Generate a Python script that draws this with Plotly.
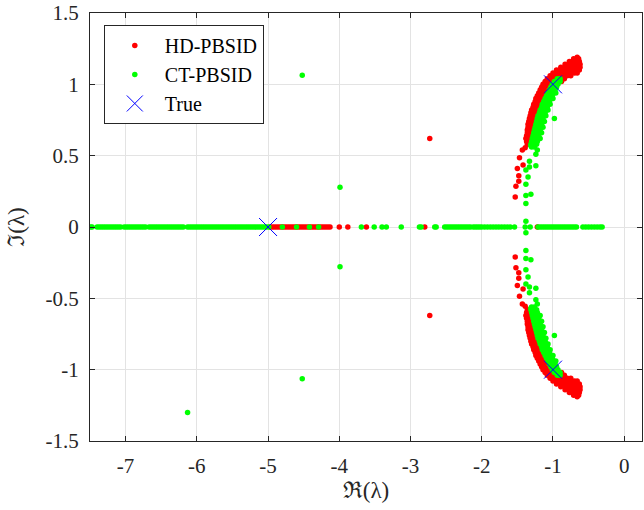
import plotly.graph_objects as go

# ---------------- data ----------------
# HD-PBSID: sparse complex-pair eigenvalues (upper half plane; conjugates added)
hd_pair_re = [-1.53, -1.52, -1.48, -1.48, -1.50, -1.42, -1.47, -1.43, -1.39, -1.36, -2.73]
hd_pair_im = [0.21, 0.285, 0.32, 0.36, 0.41, 0.435, 0.486, 0.54, 0.556, 0.58, 0.62]
# HD-PBSID: dense arc, rows of (imag part, real parts)
hd_arc_rows = [
    (0.60, [-1.37, -1.33, -1.29]),
    (0.62, [-1.38, -1.34, -1.30]),
    (0.64, [-1.37, -1.33, -1.29]),
    (0.66, [-1.36, -1.32, -1.28]),
    (0.68, [-1.36, -1.32, -1.27]),
    (0.70, [-1.35, -1.31, -1.26]),
    (0.72, [-1.35, -1.30, -1.25]),
    (0.74, [-1.34, -1.29, -1.24]),
    (0.76, [-1.33, -1.28, -1.23]),
    (0.78, [-1.32, -1.27, -1.22]),
    (0.80, [-1.31, -1.26, -1.20]),
    (0.82, [-1.30, -1.25, -1.19]),
    (0.84, [-1.28, -1.23, -1.17]),
    (0.86, [-1.27, -1.21, -1.15]),
    (0.88, [-1.25, -1.19, -1.13]),
    (0.90, [-1.24, -1.18, -1.11]),
    (0.92, [-1.22, -1.16, -1.09]),
    (0.94, [-1.20, -1.14, -1.07]),
    (0.96, [-1.18, -1.12, -1.05]),
    (0.98, [-1.16, -1.10, -1.04, -0.98]),
    (1.00, [-1.14, -1.08, -1.02, -0.96]),
    (1.02, [-1.11, -1.05, -0.99, -0.93, -0.88]),
    (1.04, [-1.08, -1.02, -0.96, -0.90, -0.84]),
    (1.06, [-1.04, -0.98, -0.92, -0.86, -0.80, -0.75]),
    (1.08, [-1.00, -0.94, -0.88, -0.82, -0.76, -0.70, -0.66]),
    (1.10, [-0.95, -0.89, -0.83, -0.77, -0.71, -0.66, -0.63]),
    (1.12, [-0.89, -0.83, -0.77, -0.71, -0.66, -0.62]),
    (1.14, [-0.83, -0.77, -0.71, -0.66, -0.62]),
    (1.16, [-0.77, -0.72, -0.67, -0.63]),
    (1.18, [-0.71, -0.67, -0.64]),
    (1.19, [-0.66]),
]
# HD-PBSID: real eigenvalues
hd_real = [-4.97, -4.94, -4.91, -4.88, -4.85, -4.82, -4.79, -4.76, -4.73, -4.70,
           -4.67, -4.64, -4.61, -4.58, -4.55, -4.52, -4.49, -4.46, -4.43, -4.40,
           -4.37, -4.34, -4.31, -4.28, -4.25, -4.22, -4.19, -4.16, -4.13,
           -4.00, -3.88, -3.62, -2.80, -1.22]

# CT-PBSID: sparse complex-pair eigenvalues (upper half plane; conjugates added)
ct_pair_re = [-4.52, -6.13, -3.99, -1.38,
              -1.38, -1.38, -1.31, -1.38, -1.35, -1.38, -1.33, -1.24, -1.33, -1.24,
              -1.22, -1.31, -0.98]
ct_pair_im = [1.063, 1.30, 0.278, 0.04,
              0.165, 0.22, 0.23, 0.30, 0.35, 0.40, 0.42, 0.43, 0.46, 0.51,
              0.54, 0.57, 0.76]
# CT-PBSID: dense arc, rows of (imag part, real parts)
ct_arc_rows = [
    (0.56, [-1.30, -1.26]),
    (0.58, [-1.31, -1.27, -1.23]),
    (0.60, [-1.30, -1.26, -1.22]),
    (0.62, [-1.29, -1.25, -1.21, -1.18]),
    (0.64, [-1.28, -1.24, -1.20]),
    (0.66, [-1.27, -1.23, -1.19, -1.16]),
    (0.68, [-1.26, -1.22, -1.18]),
    (0.70, [-1.25, -1.21, -1.17, -1.14]),
    (0.72, [-1.24, -1.20, -1.16]),
    (0.74, [-1.23, -1.19, -1.15, -1.12]),
    (0.76, [-1.22, -1.18, -1.14]),
    (0.78, [-1.21, -1.17, -1.13, -1.10]),
    (0.80, [-1.19, -1.15, -1.11]),
    (0.82, [-1.18, -1.14, -1.10, -1.07]),
    (0.84, [-1.16, -1.12, -1.08]),
    (0.86, [-1.15, -1.11, -1.07, -1.04]),
    (0.88, [-1.13, -1.09, -1.05]),
    (0.90, [-1.11, -1.07, -1.03, -1.00]),
    (0.92, [-1.09, -1.05, -1.01]),
    (0.94, [-1.07, -1.03, -0.99, -0.96]),
    (0.96, [-1.05, -1.01, -0.97]),
    (0.98, [-1.03, -0.99, -0.95]),
    (1.00, [-1.01, -0.97, -0.93]),
    (1.02, [-0.98, -0.94, -0.90]),
    (1.04, [-0.94, -0.90]),
]
# CT-PBSID: real eigenvalues
ct_real = [-7.49, -7.47, -7.40, -7.37, -7.34, -7.31, -7.28, -7.25, -7.22, -7.19,
           -7.16, -7.13, -7.10, -7.07, -7.02, -6.99, -6.96, -6.93, -6.90, -6.87,
           -6.84, -6.81, -6.78, -6.75, -6.72, -6.67, -6.64, -6.61, -6.58, -6.55,
           -6.52, -6.49, -6.46, -6.43, -6.40, -6.37, -6.34, -6.31, -6.28, -6.25,
           -6.22, -6.19, -6.13, -6.10, -6.07, -6.04, -6.01, -5.98, -5.95, -5.92,
           -5.89, -5.86, -5.83, -5.80, -5.77, -5.74, -5.71, -5.68, -5.65, -5.62,
           -5.59, -5.56, -5.53, -5.50, -5.47, -5.44, -5.41, -5.38, -5.35, -5.32,
           -5.29, -5.26, -5.23, -5.20, -5.17, -5.14, -5.11, -5.08, -5.05, -5.02,
           -4.99, -4.80, -4.60, -4.42, -4.29, -3.69, -3.51, -3.40, -3.34, -3.13,
           -2.875, -2.85, -2.66, -2.64,
           -2.52, -2.49, -2.46, -2.43, -2.40, -2.37, -2.34, -2.31, -2.28, -2.25,
           -2.22, -2.19, -2.16, -2.12, -2.09, -2.06, -2.03, -2.00, -1.96, -1.92,
           -1.88, -1.84, -1.80, -1.76, -1.72, -1.68, -1.64, -1.60, -1.54,
           -1.39, -1.32,
           -1.21, -1.18, -1.15, -1.12, -1.09, -1.06, -1.03, -1.00, -0.97, -0.94,
           -0.91, -0.88, -0.85, -0.82, -0.79, -0.76, -0.73, -0.70, -0.67,
           -0.58, -0.54, -0.50, -0.46, -0.42, -0.38, -0.34, -0.31]

# True eigenvalues
true_re = [-5.0, -1.0, -1.0]
true_im = [0.0, 1.0, -1.0]

x_ticks = [-7, -6, -5, -4, -3, -2, -1, 0]
x_ticktext = ["-7", "-6", "-5", "-4", "-3", "-2", "-1", "0"]
y_ticks = [-1.5, -1, -0.5, 0, 0.5, 1, 1.5]
y_ticktext = ["-1.5", "-1", "-0.5", "0", "0.5", "1", "1.5"]


def full_set(pair_re, pair_im, rows, real):
    up_re = list(pair_re)
    up_im = list(pair_im)
    for im, res in rows:
        up_re += res
        up_im += [im] * len(res)
    re = up_re + up_re + list(real)
    im = up_im + [-v for v in up_im] + [0.0] * len(real)
    return re, im


hd_x, hd_y = full_set(hd_pair_re, hd_pair_im, hd_arc_rows, hd_real)
ct_x, ct_y = full_set(ct_pair_re, ct_pair_im, ct_arc_rows, ct_real)

FONT = "'Liberation Serif', 'Times New Roman', 'DejaVu Serif', serif"
AX = "#262626"
GRID = "#e3e3e3"

fig = go.Figure()
fig.add_trace(go.Scatter(x=hd_x, y=hd_y, mode="markers", name="HD-PBSID",
                         marker=dict(color="#ff0000", size=5.5, line=dict(width=0))))
fig.add_trace(go.Scatter(x=ct_x, y=ct_y, mode="markers", name="CT-PBSID",
                         marker=dict(color="#00ff00", size=5.5, line=dict(width=0))))
fig.add_trace(go.Scatter(x=true_re, y=true_im, mode="markers", name="True",
                         marker=dict(symbol="x-thin", color="#0000ff", size=18,
                                     line=dict(color="#0000ff", width=1))))

axis_common = dict(
    showline=True, linecolor=AX, linewidth=1, mirror="ticks",
    ticks="inside", ticklen=5, tickcolor=AX, tickwidth=1,
    showgrid=True, gridcolor=GRID, gridwidth=1, zeroline=False,
    tickfont=dict(family=FONT, size=21, color=AX),
)

fig.update_xaxes(range=[-7.5, 0.25], tickvals=x_ticks, ticktext=x_ticktext,
                 title=dict(text="ℜ(λ)", font=dict(family=FONT, size=23, color=AX), standoff=2),
                 ticklabelstandoff=6, **axis_common)
fig.update_yaxes(range=[-1.5, 1.5], tickvals=y_ticks, ticktext=y_ticktext,
                 title=dict(text="ℑ(λ)", font=dict(family=FONT, size=23, color=AX), standoff=14),
                 ticklabelstandoff=6, **axis_common)

fig.update_layout(
    width=644, height=510,
    margin=dict(l=90, r=2, t=13, b=69),
    plot_bgcolor="white", paper_bgcolor="white",
    font=dict(family=FONT, size=20, color=AX),
    legend=dict(x=0.025, y=0.972, xanchor="left", yanchor="top",
                bgcolor="white", bordercolor=AX, borderwidth=1,
                font=dict(family=FONT, size=20, color="black"),
                itemwidth=50, tracegroupgap=0),
    showlegend=True,
)

fig.write_html("out.html")
